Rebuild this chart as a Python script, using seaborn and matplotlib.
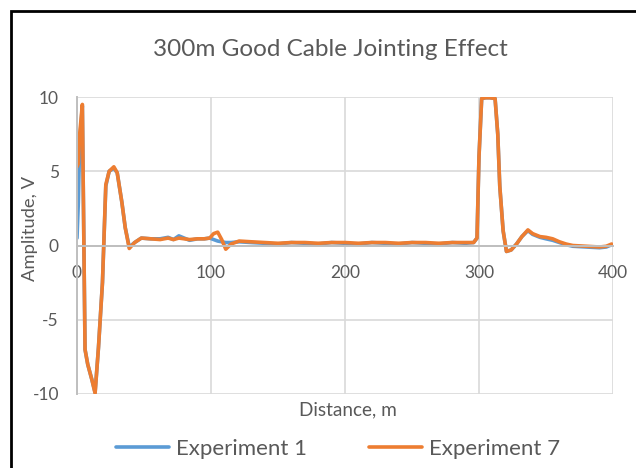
import pandas as pd
import seaborn as sns
import matplotlib.pyplot as plt
from matplotlib.patches import Rectangle

# Distância (m) e amplitude (V)
distance = [0, 1, 2, 4, 6, 8, 11, 13.5, 16, 19, 21.5, 24, 27.5, 30, 33.5, 36, 39, 43, 48,
            55, 62, 68, 72, 76, 80, 84, 90, 95, 99, 102, 105, 108, 111, 115, 121, 130,
            140, 150, 160, 170, 180, 190, 200, 210, 220, 230, 240, 250, 260, 270, 280,
            290, 296, 298.5, 300, 302, 305, 308, 312, 314, 315.5, 318, 320.5, 324, 328,
            332, 336.5, 340, 345.5, 350, 355, 360, 365, 370, 380, 390, 395, 399]

exp7 = [5.3, 5.5, 7.5, 9.5, -7.0, -8.0, -9.0, -9.95, -6.9, -2.5, 4.1, 5.0, 5.3, 4.9, 2.9,
        1.2, -0.2, 0.2, 0.5, 0.45, 0.4, 0.5, 0.4, 0.5, 0.45, 0.4, 0.45, 0.45, 0.5, 0.8,
        0.9, 0.4, -0.25, 0.1, 0.3, 0.25, 0.2, 0.15, 0.2, 0.2, 0.15, 0.2, 0.2, 0.15, 0.2,
        0.2, 0.15, 0.2, 0.2, 0.15, 0.2, 0.2, 0.2, 0.5, 6.0, 9.9, 9.95, 9.95, 9.9, 7.5,
        4.0, 1.0, -0.4, -0.3, 0.1, 0.6, 1.05, 0.8, 0.6, 0.55, 0.45, 0.25, 0.1, 0.0,
        -0.05, -0.1, -0.05, 0.1]

exp1 = [0.5, 2.9, 7.0, 9.4, -7.0, -8.0, -9.0, -9.9, -6.9, -2.5, 4.0, 5.0, 5.2, 4.9, 2.9,
        1.2, -0.1, 0.2, 0.5, 0.45, 0.45, 0.55, 0.4, 0.65, 0.5, 0.35, 0.45, 0.45, 0.5, 0.4,
        0.3, 0.25, 0.2, 0.2, 0.25, 0.2, 0.15, 0.1, 0.2, 0.15, 0.1, 0.2, 0.15, 0.1, 0.2,
        0.15, 0.1, 0.2, 0.15, 0.1, 0.2, 0.15, 0.2, 0.5, 6.0, 9.9, 9.95, 9.95, 9.9, 7.5,
        4.0, 1.0, -0.4, -0.3, 0.1, 0.6, 1.0, 0.75, 0.55, 0.45, 0.35, 0.2, 0.05, -0.05,
        -0.1, -0.15, -0.1, 0.05]

df = pd.DataFrame({'Distance': distance, 'Experiment 1': exp1, 'Experiment 7': exp7})
df = df.melt(id_vars='Distance', var_name='Serie', value_name='Amplitude')

sns.set_style('white')
plt.rcParams['font.family'] = ['Lato', 'DejaVu Sans']
plt.rcParams['axes.unicode_minus'] = False
cinza = '#595959'

fig = plt.figure(figsize=(6.36, 4.68), dpi=100)
ax = fig.add_axes([77 / 636, 1 - 394 / 468, 536 / 636, 297 / 468])

sns.lineplot(data=df, x='Distance', y='Amplitude', hue='Serie', ax=ax,
             palette=['#5B9BD5', '#ED7D31'], linewidth=2.6, legend=False)

ax.set_xlim(0, 400)
ax.set_ylim(-10, 10)
ax.set_xticks([0, 100, 200, 300, 400])
ax.set_yticks([-10, -5, 0, 5, 10])
ax.grid(True, color='#D9D9D9', linewidth=1.2)
ax.set_axisbelow(True)
for s in ['top', 'right']:
    ax.spines[s].set_visible(False)
ax.spines['bottom'].set_position(('data', 0))
ax.spines['bottom'].set_color('#BFBFBF')
ax.spines['bottom'].set_linewidth(1.4)
ax.spines['left'].set_color('#BFBFBF')
ax.spines['left'].set_linewidth(1.4)
ax.tick_params(axis='x', length=0, pad=14, labelsize=12.5, labelcolor=cinza)
ax.tick_params(axis='y', length=0, pad=13, labelsize=12.5, labelcolor=cinza)
ax.set_xlabel('')
ax.set_ylabel('')

fig.text(330 / 636, 1 - 56 / 468, '300m Good Cable Jointing Effect', ha='center',
         va='baseline', fontsize=17.5, color=cinza)
fig.text(348 / 636, 1 - 410 / 468, 'Distance, m', ha='center', va='center',
         fontsize=13.7, color=cinza)
fig.text(30 / 636, 1 - 228 / 468, 'Amplitude, V', ha='center', va='center',
         rotation=90, fontsize=13.2, color=cinza)

# legenda
h1 = plt.Line2D([], [], color='#5B9BD5', linewidth=2.6)
h7 = plt.Line2D([], [], color='#ED7D31', linewidth=2.6)
fig.legend([h1, h7], ['Experiment 1', 'Experiment 7'], loc='center',
           bbox_to_anchor=(338 / 636, 1 - 449 / 468), ncol=2, frameon=False,
           fontsize=16, labelcolor=cinza, handlelength=2.4, columnspacing=2.8,
           handletextpad=0.3)

# moldura
fig.patches.append(Rectangle((11 / 636, -0.1), 1.2, 1 - 11 / 468 + 0.1, fill=False,
                             edgecolor='black', linewidth=2, transform=fig.transFigure))

plt.savefig('out.png', dpi=100)
